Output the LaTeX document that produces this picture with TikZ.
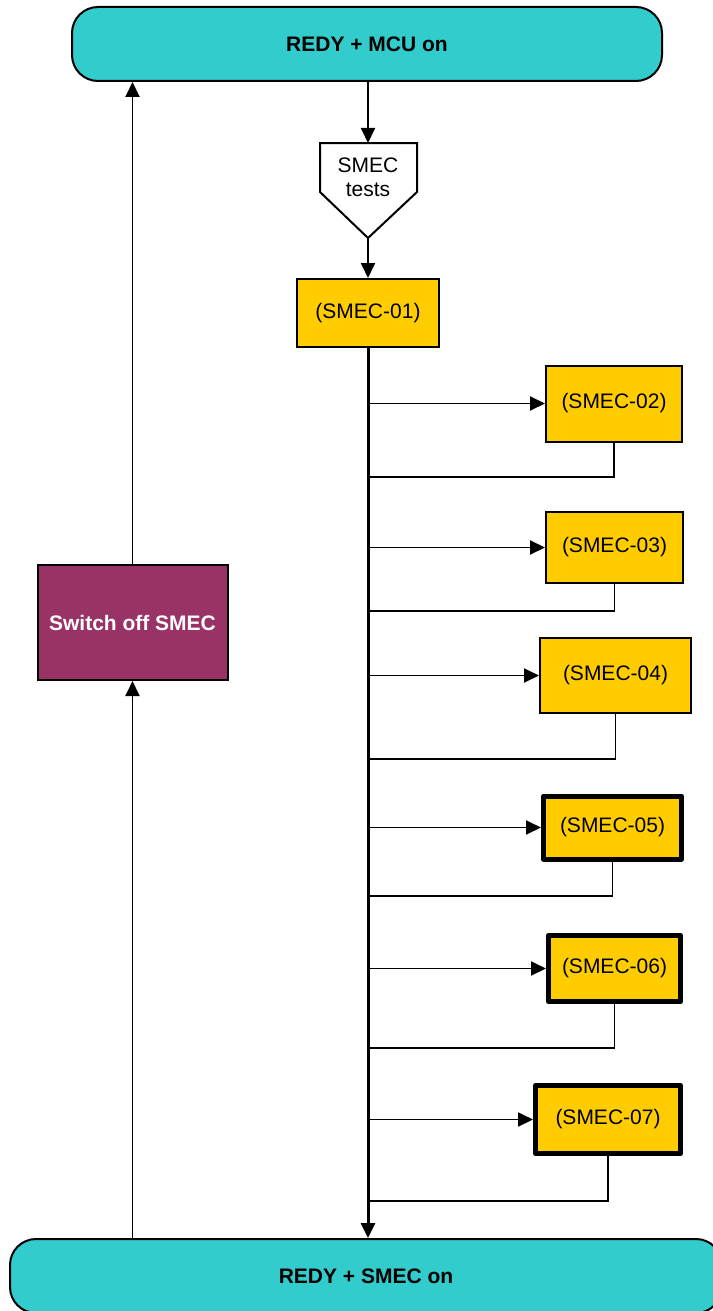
\documentclass[tikz,border=0pt]{standalone}
\usepackage{fontspec}
\setmainfont{Liberation Sans}
\usetikzlibrary{arrows.meta}
\definecolor{termcol}{HTML}{33CCCC}
\definecolor{testcol}{HTML}{FFCC00}
\definecolor{offcol}{HTML}{993366}
\begin{document}
\begin{tikzpicture}[x=1pt,y=-1pt,
  txt/.style={font=\fontsize{21}{24}\selectfont},
  terminal/.style={draw=black,line width=2pt,fill=termcol,rounded corners=26pt,
    inner sep=0pt,txt,font=\fontsize{21}{24}\selectfont\bfseries},
  testbox/.style={draw=black,line width=2pt,fill=testcol,inner sep=0pt,txt},
  heavybox/.style={testbox,line width=5pt,line join=round},
  offbox/.style={draw=black,line width=2pt,fill=offcol,inner sep=0pt,text=white,
    font=\fontsize{21}{24}\selectfont\bfseries},
  conn/.style={line width=1.9pt},
  arr/.style={conn,-{Triangle[length=15pt,width=14pt]}},
  mainline/.style={line width=3pt,-{Triangle[length=15pt,width=14pt]}}
]
\useasboundingbox (0,0) rectangle (712,1311);

% terminals
\node[terminal,minimum width=590pt,minimum height=74pt] (top) at (367,44) {REDY + MCU on};
\node[terminal,minimum width=712pt,minimum height=74pt] (bot) at (366,1276) {REDY + SMEC on};

% pentagon marking the start of the test block
\coordinate (ptop) at (368,143);
\coordinate (ptip) at (368,238);
\draw[line width=2pt,fill=white,line join=miter] (320,143) -- (417,143) -- (417,192) -- (ptip) -- (320,192) -- cycle;
\node[txt,align=center,inner sep=0pt] (tests) at (368,177) {SMEC\\tests};

% test steps
\node[testbox,minimum width=142pt,minimum height=68pt] (s01) at (368,313) {(SMEC-01)};
\node[testbox,minimum width=136pt,minimum height=76pt] (s02) at (614,403.5) {(SMEC-02)};
\node[testbox,minimum width=137pt,minimum height=71pt] (s03) at (614.5,547.5) {(SMEC-03)};
\node[testbox,minimum width=151pt,minimum height=75pt] (s04) at (615.5,675.5) {(SMEC-04)};
\node[heavybox,minimum width=138pt,minimum height=63pt] (s05) at (612.5,827.5) {(SMEC-05)};
\node[heavybox,minimum width=132pt,minimum height=66pt] (s06) at (614.5,968.5) {(SMEC-06)};
\node[heavybox,minimum width=145pt,minimum height=68pt] (s07) at (608,1119.5) {(SMEC-07)};

% switch-off block
\node[offbox,minimum width=190pt,minimum height=115pt] (off) at (132.5,622.5) {Switch off SMEC};

% return points on the main line
\coordinate (r2) at (368,477);
\coordinate (r3) at (368,611);
\coordinate (r4) at (368,759);
\coordinate (r5) at (368,896);
\coordinate (r6) at (368,1048);
\coordinate (r7) at (368,1201);

% main flow
\draw[arr] (top.south -| ptop) -- (ptop);
\draw[arr] (ptip) -- (s01.north);
\draw[mainline] (s01.south) -- (s01.south |- bot.north);

% branches to each step and back
\foreach \s/\r in {s02/r2,s03/r3,s04/r4,s05/r5,s06/r6,s07/r7}{
  \draw[arr] (s01.south |- \s.west) -- (\s.west);
  \draw[conn] (\s.south) |- (\r);
}

% switch-off loop on the left
\draw[arr] (bot.north -| off.south) -- (off.south);
\draw[arr] (off.north) -- (off.north |- top.south);
\end{tikzpicture}
\end{document}
